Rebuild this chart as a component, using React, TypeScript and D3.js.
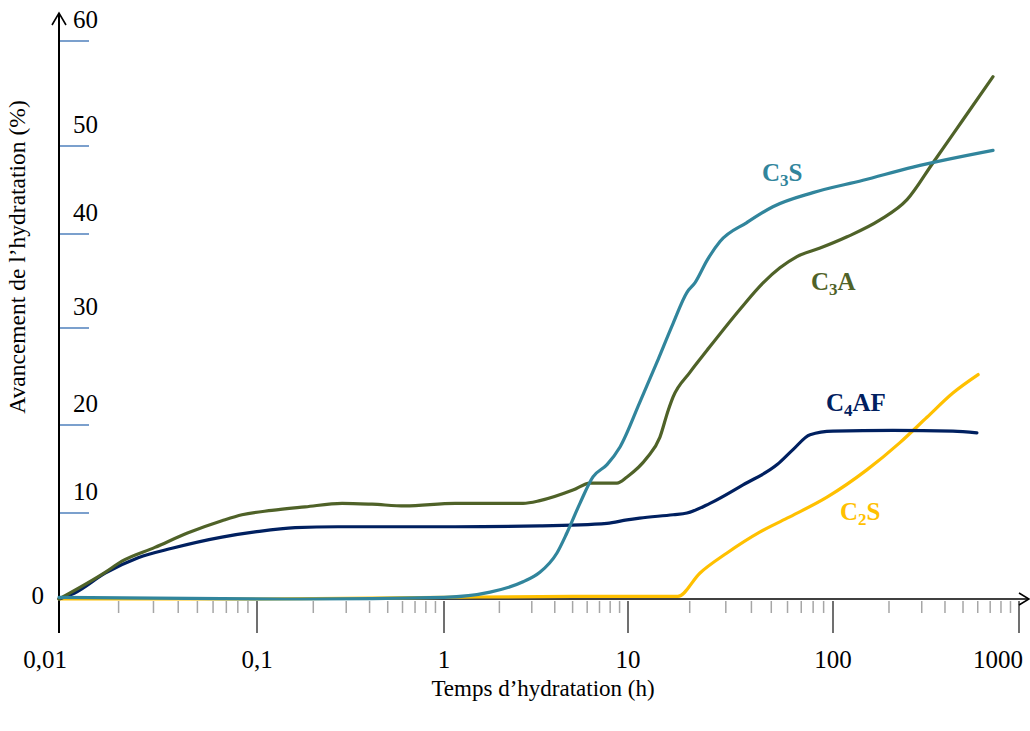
import React from "react";
import * as d3 from "d3";

// ---- data ----
const xMajorTicks = [0.01, 0.1, 1, 10, 100, 1000];
const xMajorLabels = ["0,01", "0,1", "1", "10", "100", "1000"];
const yTicks = [0, 10, 20, 30, 40, 50, 60];
const yTickLabels = ["0", "10", "20", "30", "40", "50", "60"];

const c3aHours = [0.01, 0.0171, 0.0208, 0.0305, 0.0449, 0.0665, 0.084, 0.12, 0.181, 0.285, 0.412, 0.618, 1.15, 2.69, 3.32, 5.02, 6.22, 8.71, 9.88, 12.4, 14.3, 15.7, 16.6, 20, 24.3, 35.2, 45.6, 55.1, 66.7, 86.5, 119, 179, 250, 345, 500, 725];
const c3aValues = [0, 3.1, 4.4, 6.0, 7.7, 9.1, 9.8, 10.3, 10.7, 11.1, 11.0, 10.8, 11.1, 11.1, 11.4, 12.6, 13.4, 13.4, 14.1, 16.3, 18.6, 21.5, 22.9, 25.4, 27.7, 32.0, 34.8, 36.4, 37.6, 38.5, 39.7, 41.6, 43.9, 48.1, 52.5, 56.6];

const c3sHours = [0.01, 0.03, 0.17, 1.0, 1.78, 2.69, 3.32, 4.11, 4.66, 5.48, 6.45, 7.69, 9.05, 11.4, 13.8, 16.6, 19.4, 21.2, 24.3, 28.1, 38, 50.9, 79.8, 145, 269, 725];
const c3sValues = [0.2, 0.1, 0, 0.2, 0.8, 2.0, 3.1, 5.35, 7.7, 11.1, 14.1, 15.5, 17.5, 22.3, 26.4, 30.5, 33.8, 34.8, 37.2, 39.2, 41.3, 43.1, 44.7, 46.1, 47.6, 49.5];

const c4afHours = [0.01, 0.012, 0.0171, 0.0251, 0.0372, 0.0665, 0.0977, 0.16, 0.271, 1.15, 3.32, 7.69, 9.88, 11.4, 16.6, 19.4, 25.1, 36.4, 53.4, 63.8, 77.3, 100, 210, 441, 594];
const c4afValues = [0, 0.7, 3.0, 4.8, 5.9, 7.2, 7.8, 8.3, 8.4, 8.4, 8.5, 8.8, 9.2, 9.4, 9.8, 10.0, 11.1, 13.2, 15.5, 17.2, 18.9, 19.3, 19.4, 19.3, 19.1];

const c2sHours = [0.01, 0.1, 1, 5, 17.5, 22.4, 30.4, 44.1, 59.7, 93.5, 152, 229, 320, 441, 603];
const c2sValues = [0, 0, 0.2, 0.3, 0.3, 3.0, 5.35, 7.8, 9.4, 11.8, 14.9, 18.0, 20.8, 23.3, 25.2];

const seriesNames = ["C2S", "C4AF", "C3A", "C3S"];
const seriesColors = ["#FFC000", "#002060", "#4F6228", "#31859C"];

export default function App() {
  const W = 1030, H = 731;
  const x = d3.scaleLog().domain(xMajorTicks).range([59, 257, 444, 628, 833, 1019]);
  const y = d3.scaleLinear().domain(yTicks).range([599, 513, 425, 328, 234, 146, 41]);

  const series = [
    { h: c2sHours, v: c2sValues },
    { h: c4afHours, v: c4afValues },
    { h: c3aHours, v: c3aValues },
    { h: c3sHours, v: c3sValues },
  ];
  const line = d3.line<[number, number]>()
    .x((d) => x(d[0]))
    .y((d) => y(d[1]))
    .curve(d3.curveMonotoneX);

  const minorTicks: number[] = [];
  for (let k = 0; k < xMajorTicks.length - 1; k++) {
    for (let m = 2; m <= 9; m++) minorTicks.push(m * xMajorTicks[k]);
  }

  const font = "'Liberation Serif', 'Times New Roman', serif";
  const labelStyle = { fontFamily: font, fontWeight: 700, fontSize: 25 } as const;

  const seriesLabel = (main1: string, sub: string, main2: string, color: string, lx: number, ly: number) => (
    <text x={lx} y={ly} fill={color} style={labelStyle}>
      {main1}
      <tspan fontSize={17} dy={5}>{sub}</tspan>
      <tspan dy={-5}>{main2}</tspan>
    </text>
  );

  return (
    <div style={{ position: "absolute", left: 0, top: 0 }}>
      <svg width={W} height={H} style={{ display: "block", background: "#fff" }}>
        {/* minor x ticks */}
        {minorTicks.map((t, i) => (
          <line key={"mt" + i} x1={x(t)} x2={x(t)} y1={601} y2={613} stroke="#A6A6A6" strokeWidth={1.5} />
        ))}
        {/* major x ticks */}
        {xMajorTicks.slice(1).map((t, i) => (
          <line key={"Mt" + i} x1={x(t)} x2={x(t)} y1={601} y2={633} stroke="#404040" strokeWidth={1.5} />
        ))}
        {/* x tick labels */}
        {xMajorTicks.map((t, i) => {
          let cx = x(t);
          if (i === 0) cx = 45;
          if (i === xMajorTicks.length - 1) cx = 998;
          return (
            <text key={"xl" + i} x={cx} y={668} textAnchor="middle" style={{ fontFamily: font, fontSize: 25 }} fill="#000">
              {xMajorLabels[i]}
            </text>
          );
        })}
        {/* y blue ticks */}
        {yTicks.slice(1).map((t, i) => (
          <line key={"yt" + i} x1={60} x2={89} y1={y(t)} y2={y(t)} stroke="#4F81BD" strokeWidth={1.5} />
        ))}
        {/* y tick labels */}
        {yTicks.map((t, i) =>
          i === 0 ? (
            <text key={"yl" + i} x={44} y={y(t) + 5} textAnchor="end" style={{ fontFamily: font, fontSize: 25 }}>
              {yTickLabels[i]}
            </text>
          ) : (
            <text key={"yl" + i} x={73} y={y(t) - 13} style={{ fontFamily: font, fontSize: 25 }}>
              {yTickLabels[i]}
            </text>
          )
        )}
        {/* axes */}
        <line x1={59} x2={1028} y1={599} y2={599} stroke="#000" strokeWidth={1.6} />
        <polyline points="1019,593 1029,599 1019,605" fill="none" stroke="#000" strokeWidth={1.6} />
        <line x1={59} x2={59} y1={14} y2={633} stroke="#000" strokeWidth={2} />
        <polyline points="52,25 59,13 66,25" fill="none" stroke="#000" strokeWidth={1.6} />

        {/* series */}
        {series.map((s, i) => (
          <path
            key={seriesNames[i]}
            d={line(s.h.map((h, j) => [h, s.v[j]] as [number, number])) || ""}
            fill="none"
            stroke={seriesColors[i]}
            strokeWidth={3.2}
            strokeLinejoin="round"
            strokeLinecap="round"
          />
        ))}

        {/* series labels */}
        {seriesLabel("C", "3", "S", "#31859C", 762, 181)}
        {seriesLabel("C", "3", "A", "#4F6228", 811, 290)}
        {seriesLabel("C", "4", "AF", "#002060", 826, 411)}
        {seriesLabel("C", "2", "S", "#FFC000", 840, 520)}

        {/* axis titles */}
        <text transform="translate(25,257) rotate(-90)" textAnchor="middle" style={{ fontFamily: font, fontSize: 23.5 }}>
          Avancement de l’hydratation (%)
        </text>
        <text x={543} y={696} textAnchor="middle" style={{ fontFamily: font, fontSize: 23 }}>
          Temps d’hydratation (h)
        </text>
      </svg>
    </div>
  );
}
